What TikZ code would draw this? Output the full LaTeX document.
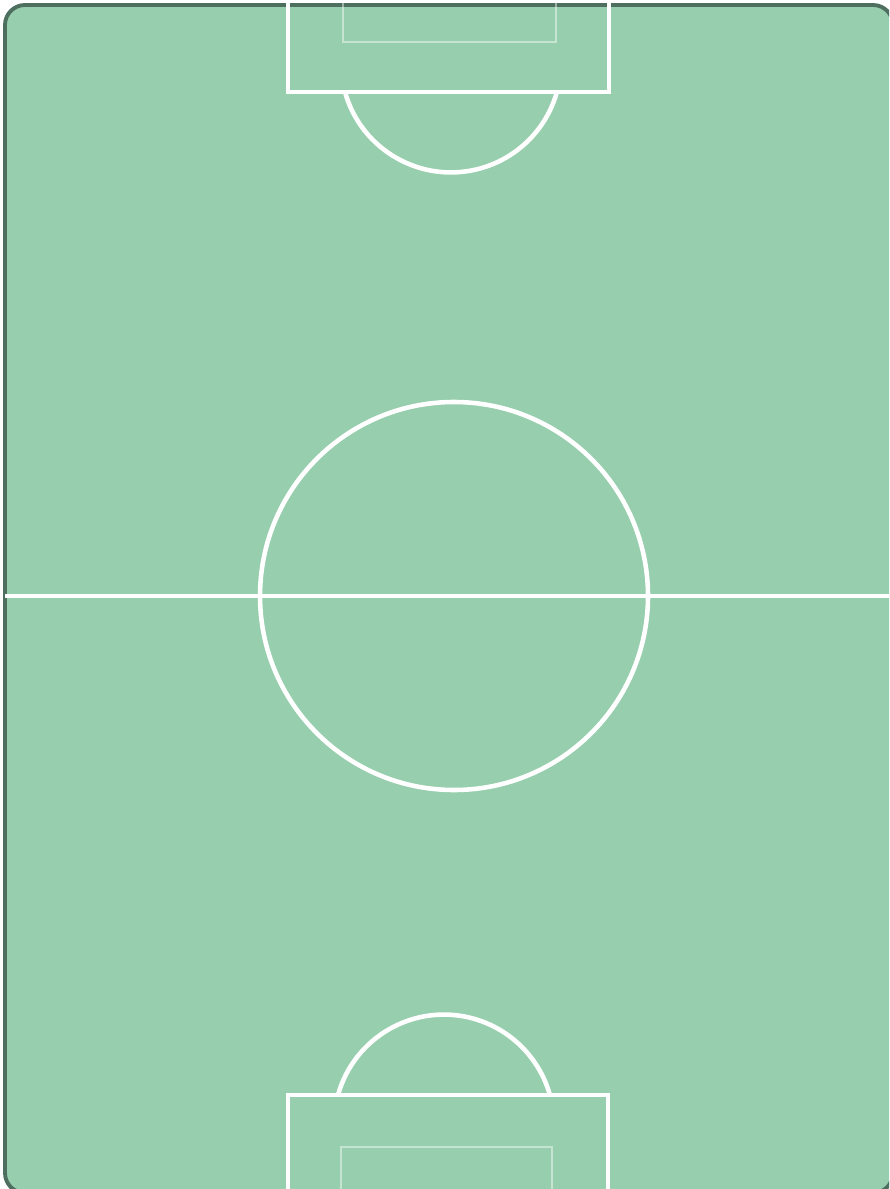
\documentclass[tikz,border=0pt]{standalone}
\usepackage{tikz}
\usepackage{xcolor}

\definecolor{pitchgreen}{HTML}{97CEAD}
\definecolor{pitchedge}{HTML}{4E6E60}

\begin{document}
\begin{tikzpicture}[
  x=0.02cm, y=-0.02cm,
  pitch/.style={fill=pitchgreen, draw=pitchedge, line width=2.2pt, rounded corners=0.4cm},
  marking/.style={draw=white, line width=2.6pt},
  goalarea/.style={draw=white, draw opacity=0.45, line width=1pt}
]
\useasboundingbox (0,0) rectangle (889,1189);
\clip (0,0) rectangle (889,1189);
% pitch surface
\path[pitch] (5,5) rectangle (893,1193);
% halfway line and centre circle
\draw[marking] (5,596) -- (889,596);
\draw[marking] (454,596) circle[radius=194];
% top end
\draw[marking] (288,-5) rectangle (609,92);
\draw[goalarea] (343,-5) rectangle (556,42);
\draw[marking] (345,92) arc[start angle=164.4, end angle=15.6, radius=110];
% bottom end
\draw[marking] (288,1195) rectangle (608,1095);
\draw[goalarea] (341,1195) rectangle (552,1147);
\draw[marking] (338,1095) arc[start angle=195.6, end angle=344.4, radius=110];
\end{tikzpicture}
\end{document}
